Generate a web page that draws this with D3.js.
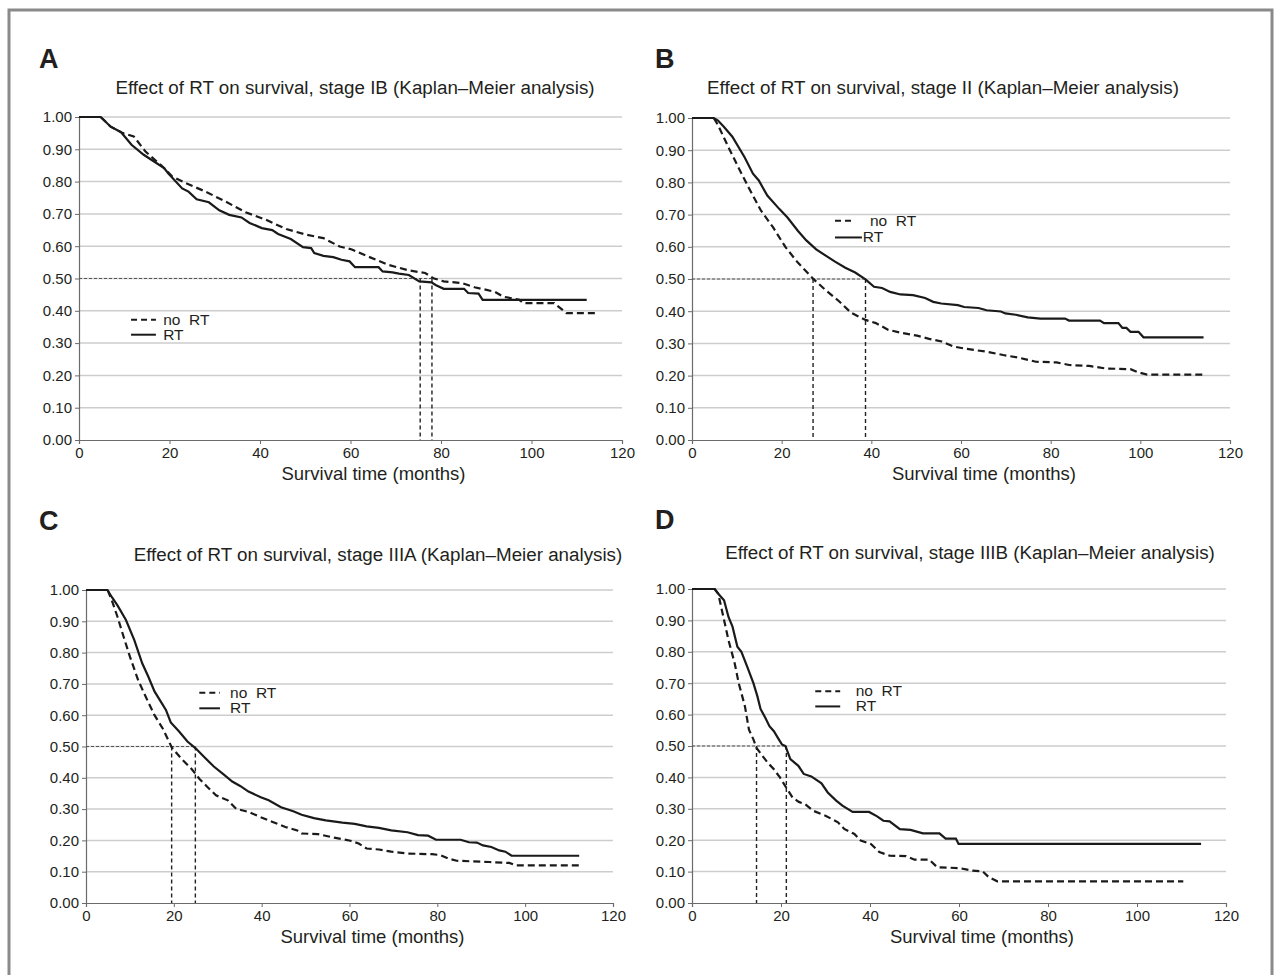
<!DOCTYPE html>
<html>
<head>
<meta charset="utf-8">
<script src="https://cdn.jsdelivr.net/npm/d3@7"></script>
<style>
  body { margin: 0; background: #fff; }
  text { font-family: "Liberation Sans", Arial, sans-serif; fill: #231f20; }
</style>
</head>
<body>
<svg id="chart" width="1275" height="975"></svg>
<script>
// ---- data ----
var xTicks = [0, 20, 40, 60, 80, 100, 120];
var yTicks = [0, 0.1, 0.2, 0.3, 0.4, 0.5, 0.6, 0.7, 0.8, 0.9, 1.0];
var letters = ["A", "B", "C", "D"];
var titles = [
    "Effect of RT on survival, stage IB (Kaplan\u2013Meier analysis)",
    "Effect of RT on survival, stage II (Kaplan\u2013Meier analysis)",
    "Effect of RT on survival, stage IIIA (Kaplan\u2013Meier analysis)",
    "Effect of RT on survival, stage IIIB (Kaplan\u2013Meier analysis)"
];
var xLabel = "Survival time (months)";
var legendLabels = ["no  RT", "RT"];

// [month, survival]
var aNoRT = [[0,1],[4.8,1],[7,0.97],[9.7,0.95],[12.1,0.94],[14.7,0.893],[18.8,0.842],[20.6,0.816],[23.3,0.797],[27.8,0.77],[32.3,0.739],[36.8,0.705],[41.3,0.682],[45.8,0.653],[50.4,0.635],[54,0.625],[57.6,0.599],[60.3,0.59],[63.9,0.568],[68.4,0.542],[72.9,0.525],[76.5,0.517],[78.3,0.501],[80.6,0.491],[84.6,0.486],[87.4,0.473],[91.9,0.459],[93.7,0.444],[97.3,0.434],[98.2,0.424],[105,0.424],[107.7,0.393],[114,0.393]];
var aRT = [[0,1],[4.8,1],[7,0.97],[9.3,0.953],[11.6,0.914],[14.3,0.883],[16.5,0.863],[18.8,0.842],[19.7,0.826],[22.8,0.779],[24.2,0.769],[26,0.745],[28.7,0.736],[31,0.711],[33.2,0.697],[35.9,0.689],[37.7,0.672],[40.4,0.656],[42.7,0.65],[44,0.638],[46.8,0.622],[49.5,0.597],[51.3,0.594],[52,0.579],[54,0.57],[56.2,0.566],[58,0.558],[59.8,0.553],[61,0.535],[66.2,0.535],[67.1,0.522],[69.3,0.519],[70.7,0.515],[72.9,0.511],[75.2,0.491],[77.9,0.488],[78.8,0.48],[80.6,0.468],[85.1,0.468],[86,0.455],[88.3,0.453],[89.2,0.434],[112.2,0.434]];

var bNoRT = [[0,1],[4.85,1],[5.8,0.978],[8.1,0.91],[10.3,0.848],[12.6,0.785],[15.4,0.712],[18.1,0.66],[20.9,0.598],[23.6,0.551],[27,0.501],[29.6,0.468],[32.8,0.431],[35.5,0.395],[38.7,0.373],[41,0.363],[43.8,0.342],[47,0.332],[50.2,0.324],[52.9,0.314],[55.7,0.306],[58.4,0.29],[61.2,0.283],[65.8,0.274],[69.4,0.264],[73.1,0.255],[76.7,0.243],[81.3,0.241],[84.1,0.233],[88.6,0.23],[92.3,0.222],[97.8,0.22],[99.6,0.21],[101.5,0.203],[114.1,0.203]];
var bRT = [[0,1],[4.85,1],[5.8,0.992],[7.1,0.973],[9,0.942],[11.7,0.879],[13.6,0.827],[14.9,0.806],[16.8,0.759],[19.5,0.717],[21.3,0.691],[23.6,0.65],[25.5,0.62],[27.7,0.592],[30,0.571],[31.9,0.554],[34.2,0.535],[36.4,0.52],[38.7,0.499],[40.6,0.476],[42.4,0.472],[44.2,0.46],[46.5,0.452],[49.3,0.45],[52,0.441],[53.8,0.429],[55.6,0.424],[59.3,0.419],[60.7,0.413],[63.9,0.41],[65.7,0.403],[68.9,0.399],[69.9,0.393],[72.2,0.389],[74.9,0.381],[77.7,0.377],[83.2,0.377],[84.1,0.371],[91,0.371],[91.9,0.363],[95.1,0.363],[96,0.348],[96.9,0.348],[97.8,0.336],[99.6,0.336],[100.7,0.319],[114.1,0.319]];

var cNoRT = [[0,1],[4.9,1],[5.9,0.966],[7.2,0.913],[8.6,0.849],[10,0.787],[11.9,0.711],[13.8,0.653],[15.6,0.6],[17.5,0.557],[19.5,0.498],[21.7,0.461],[24,0.429],[25.8,0.397],[27.7,0.37],[29.6,0.344],[32.3,0.328],[34.2,0.301],[37,0.291],[39.8,0.274],[42.5,0.259],[45.4,0.243],[48.1,0.232],[49.1,0.222],[52.8,0.22],[56.5,0.209],[60.2,0.199],[62.1,0.19],[63.9,0.174],[66.7,0.171],[69.5,0.164],[73.2,0.158],[78.8,0.156],[80.7,0.153],[82.5,0.142],[84.4,0.135],[91.8,0.131],[96.4,0.128],[97.9,0.12],[112.3,0.12]];
var cRT = [[0,1],[4.9,1],[5.9,0.977],[7.2,0.95],[9.1,0.904],[11,0.84],[12.8,0.766],[14.2,0.723],[15.6,0.676],[17,0.644],[18.2,0.617],[19.3,0.577],[21.2,0.548],[23.1,0.516],[24.9,0.495],[26.8,0.468],[29.1,0.436],[31.4,0.41],[33.3,0.388],[35.1,0.374],[37,0.356],[39.8,0.338],[41.6,0.328],[44.4,0.306],[47.2,0.293],[49.1,0.282],[51.9,0.271],[54.6,0.264],[58.4,0.257],[61.2,0.253],[63.9,0.245],[66.7,0.24],[69.5,0.232],[73.2,0.226],[75.6,0.217],[77.9,0.215],[79.7,0.202],[85.3,0.202],[87.2,0.194],[89,0.193],[90.4,0.184],[92.3,0.179],[94.1,0.168],[95.5,0.164],[96.9,0.151],[112.3,0.151]];

var dNoRT = [[0,1],[5.1,1],[5.9,0.985],[6.8,0.927],[8.2,0.837],[9.6,0.763],[10.5,0.7],[11.9,0.626],[12.8,0.552],[13.8,0.521],[14.5,0.494],[15.6,0.473],[17,0.447],[18.4,0.426],[19.8,0.399],[21.2,0.367],[22.6,0.336],[24,0.322],[25.4,0.315],[27.2,0.294],[30,0.278],[32.8,0.257],[34.2,0.236],[36.5,0.22],[37.9,0.199],[40.2,0.188],[42.1,0.162],[44.4,0.151],[48.1,0.149],[50,0.138],[53.3,0.138],[55.1,0.114],[60.2,0.111],[63,0.103],[65.3,0.101],[66.7,0.082],[68.6,0.069],[110.4,0.069]];
var dRT = [[0,1],[5.1,1],[5.9,0.985],[7.2,0.964],[8.2,0.911],[9.1,0.88],[10.2,0.816],[11.1,0.8],[12.4,0.753],[13.8,0.7],[14.7,0.658],[15.4,0.618],[16.5,0.589],[17.4,0.563],[18.4,0.547],[19.3,0.526],[20.2,0.505],[21,0.5],[22.1,0.458],[23.9,0.437],[25.1,0.411],[26.8,0.403],[29.1,0.381],[30.5,0.352],[32.4,0.326],[33.8,0.31],[36.1,0.29],[39.8,0.29],[41.6,0.276],[43,0.262],[44.4,0.26],[46.7,0.235],[49.1,0.233],[51.9,0.222],[55.6,0.222],[57,0.205],[59.3,0.205],[59.9,0.188],[114.4,0.188]];

// median survival (months) for [no RT, RT]
var aMedians = [78.0, 75.4];
var bMedians = [27.0, 38.7];
var cMedians = [19.5, 24.9];
var dMedians = [14.5, 21.2];

// ---- layout ----
var panels = [
    {noRT: aNoRT, rt: aRT, med: aMedians, left: 79, right: 622, top: 117, bottom: 440,
     letterX: 39, letterY: 68, titleX: 355, titleY: 94, leg: {x1: 11.5, x2: 17, tx: 18.6, y: 0.372, gap: 0.046}},
    {noRT: bNoRT, rt: bRT, med: bMedians, left: 692, right: 1230, top: 118, bottom: 440,
     letterX: 655, letterY: 68, titleX: 943, titleY: 94, leg: {x1: 31.9, x2: 36, tx: 39.7, txRT: 38.1, x2RT: 37.9, y: 0.681, gap: 0.052}},
    {noRT: cNoRT, rt: cRT, med: cMedians, left: 86, right: 613, top: 590, bottom: 903,
     letterX: 39, letterY: 530, titleX: 378, titleY: 561, leg: {x1: 25.8, x2: 30.5, tx: 32.8, y: 0.672, gap: 0.05}},
    {noRT: dNoRT, rt: dRT, med: dMedians, left: 692, right: 1226, top: 589, bottom: 903,
     letterX: 655, letterY: 529, titleX: 970, titleY: 559, leg: {x1: 27.7, x2: 33.3, tx: 36.8, y: 0.674, gap: 0.048}}
];

var svg = d3.select("#chart");

// outer frame
svg.append("rect")
    .attr("x", 9).attr("y", 10)
    .attr("width", 1263).attr("height", 990)
    .attr("fill", "none")
    .attr("stroke", "#8a8a8a")
    .attr("stroke-width", 3);

panels.forEach(function (p, i) {
    var x = d3.scaleLinear().domain([0, 120]).range([p.left, p.right]);
    var y = d3.scaleLinear().domain([0, 1]).range([p.bottom, p.top]);
    var g = svg.append("g");

    // panel letter + title
    g.append("text")
        .attr("x", p.letterX).attr("y", p.letterY)
        .attr("font-size", 27).attr("font-weight", "bold")
        .text(letters[i]);
    g.append("text")
        .attr("x", p.titleX).attr("y", p.titleY)
        .attr("text-anchor", "middle")
        .attr("font-size", 18.8)
        .text(titles[i]);

    // gridlines
    g.selectAll(".grid")
        .data(yTicks.slice(1))
        .enter().append("line")
        .attr("x1", p.left).attr("x2", p.right)
        .attr("y1", function (d) { return y(d); })
        .attr("y2", function (d) { return y(d); })
        .attr("stroke", "#cdcdcd")
        .attr("stroke-width", 1.5);

    // axes
    var yAxis = g.append("g")
        .attr("transform", "translate(" + p.left + ",0)")
        .call(d3.axisLeft(y).tickValues(yTicks).tickFormat(d3.format(".2f")).tickSize(4).tickPadding(3));
    var xAxis = g.append("g")
        .attr("transform", "translate(0," + p.bottom + ")")
        .call(d3.axisBottom(x).tickValues(xTicks).tickSize(4).tickPadding(3));
    [yAxis, xAxis].forEach(function (ax) {
        ax.select(".domain").attr("stroke", "#6b6b6b").attr("stroke-width", 1.2);
        ax.selectAll(".tick line").attr("stroke", "#6b6b6b");
        ax.selectAll("text").attr("font-size", 15).attr("fill", "#231f20")
            .attr("font-family", "'Liberation Sans', Arial, sans-serif");
    });

    g.append("text")
        .attr("x", (p.left + p.right) / 2 + 23).attr("y", p.bottom + 40)
        .attr("text-anchor", "middle")
        .attr("font-size", 18.5)
        .text(xLabel);

    // median reference lines
    var medMax = d3.max(p.med);
    g.append("line")
        .attr("x1", x(0)).attr("x2", x(medMax))
        .attr("y1", y(0.5)).attr("y2", y(0.5))
        .attr("stroke", "#555").attr("stroke-width", 1)
        .attr("stroke-dasharray", "3,2");
    g.selectAll(".med")
        .data(p.med)
        .enter().append("line")
        .attr("x1", function (d) { return x(d); })
        .attr("x2", function (d) { return x(d); })
        .attr("y1", y(0.5)).attr("y2", y(0))
        .attr("stroke", "#222").attr("stroke-width", 1.4)
        .attr("stroke-dasharray", "4,3");

    // survival curves
    var line = d3.line()
        .x(function (d) { return x(d[0]); })
        .y(function (d) { return y(d[1]); });
    g.append("path")
        .datum(p.noRT)
        .attr("d", line)
        .attr("fill", "none")
        .attr("stroke", "#1a1a1a")
        .attr("stroke-width", 2.2)
        .attr("stroke-dasharray", "7,4");
    g.append("path")
        .datum(p.rt)
        .attr("d", line)
        .attr("fill", "none")
        .attr("stroke", "#1a1a1a")
        .attr("stroke-width", 2.2);

    // legend
    var L = p.leg;
    g.append("line")
        .attr("x1", x(L.x1)).attr("x2", x(L.x2))
        .attr("y1", y(L.y)).attr("y2", y(L.y))
        .attr("stroke", "#1a1a1a").attr("stroke-width", 2)
        .attr("stroke-dasharray", "6,4");
    g.append("line")
        .attr("x1", x(L.x1)).attr("x2", x(L.x2RT || L.x2))
        .attr("y1", y(L.y - L.gap)).attr("y2", y(L.y - L.gap))
        .attr("stroke", "#1a1a1a").attr("stroke-width", 2);
    g.append("text")
        .attr("x", x(L.tx)).attr("y", y(L.y) + 5)
        .attr("font-size", 15.5)
        .style("white-space", "pre")
        .text(legendLabels[0]);
    g.append("text")
        .attr("x", x(L.txRT || L.tx)).attr("y", y(L.y - L.gap) + 5)
        .attr("font-size", 15.5)
        .text(legendLabels[1]);
});
</script>
</body>
</html>
